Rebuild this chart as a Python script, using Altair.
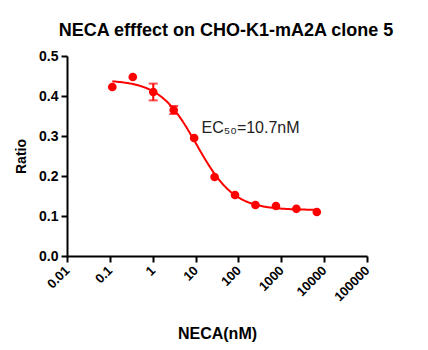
import altair as alt
import numpy as np
import pandas as pd

conc_nM = [0.114, 0.343, 1.03, 3.09, 9.26, 27.8, 83.3, 250, 750, 2250, 6750]
ratio = [0.4225, 0.4475, 0.410, 0.365, 0.295, 0.1975, 0.1525, 0.1275, 0.125, 0.118, 0.110]
ratio_err = [0.0, 0.0, 0.021, 0.010, 0.0, 0.0, 0.0, 0.0, 0.0, 0.0, 0.0]

# Four-parameter logistic fit parameters (EC50 as stated on chart)
fit_top = 0.44
fit_bottom = 0.115
fit_ec50 = 10.7
fit_hill = 1.0

x_ticks = [0.01, 0.1, 1, 10, 100, 1000, 10000, 100000]
y_ticks = [0.0, 0.1, 0.2, 0.3, 0.4, 0.5]
title_text = "NECA efffect on CHO-K1-mA2A clone 5"
ec50_label = "EC\u2085\u2080=10.7nM"
ec50_pos = {"x": 13.8, "y": 0.3075}

RED = "#FF0000"
FONT = "Liberation Sans"

pts = pd.DataFrame({"x": conc_nM, "y": ratio, "err": ratio_err})
pts["lo"] = pts["y"] - pts["err"]
pts["hi"] = pts["y"] + pts["err"]
err = pts[pts["err"] > 0]

xc = np.logspace(np.log10(conc_nM[0]), np.log10(conc_nM[-1]), 200)
yc = fit_bottom + (fit_top - fit_bottom) / (1 + (xc / fit_ec50) ** fit_hill)
curve = pd.DataFrame({"x": xc, "y": yc})

xscale = alt.Scale(type="log", domain=[0.01, 100000])
yscale = alt.Scale(domain=[0, 0.5], nice=False)

xaxis = alt.Axis(
    values=x_ticks, labelExpr="'' + datum.value", title="NECA(nM)",
    labelAngle=315, labelAlign="right", labelBaseline="middle",
    labelFontSize=13, titleFontSize=16, titlePadding=22, labelPadding=6,
)

line = alt.Chart(curve).mark_line(color=RED, strokeWidth=2).encode(
    x=alt.X("x:Q", scale=xscale, axis=xaxis),
    y=alt.Y("y:Q", scale=yscale, title="Ratio"),
)

dots = alt.Chart(pts).mark_circle(color=RED, opacity=1, size=75).encode(
    x="x:Q", y="y:Q"
)

bars = alt.Chart(err).mark_rule(color=RED, strokeWidth=2).encode(
    x="x:Q", y="lo:Q", y2="hi:Q"
)
cap_lo = alt.Chart(err).mark_tick(color=RED, thickness=2, size=9, orient="horizontal").encode(
    x="x:Q", y="lo:Q"
)
cap_hi = alt.Chart(err).mark_tick(color=RED, thickness=2, size=9, orient="horizontal").encode(
    x="x:Q", y="hi:Q"
)

label = alt.Chart(pd.DataFrame([ec50_pos])).mark_text(
    text=ec50_label, align="left", baseline="alphabetic", fontSize=16,
    font=FONT, color="#222222"
).encode(x="x:Q", y="y:Q")

chart = alt.layer(line, bars, cap_lo, cap_hi, dots, label).properties(
    width=300, height=200,
    title=alt.TitleParams(title_text, font=FONT, fontSize=18, fontWeight="bold",
                          color="black", anchor="middle", dx=9, dy=5, offset=14),
    autosize=alt.AutoSizeParams(type="none"),
    padding={"left": 67, "top": 56, "right": 61, "bottom": 94},
).configure_view(stroke=None).configure_axis(
    labelFont=FONT, labelFontWeight="bold", labelColor="black", labelOverlap=False,
    titleFont=FONT, titleFontWeight="bold", titleColor="black",
    grid=False, domainColor="black", domainWidth=2,
    tickColor="black", tickWidth=2, tickSize=6,
).configure_axisY(
    values=y_ticks, format=".1f", tickCount=6,
    labelFontSize=14, titleFontSize=14, titlePadding=10, labelPadding=3,
)

chart.save("out.html", embed_options={"renderer": "svg", "actions": False})
